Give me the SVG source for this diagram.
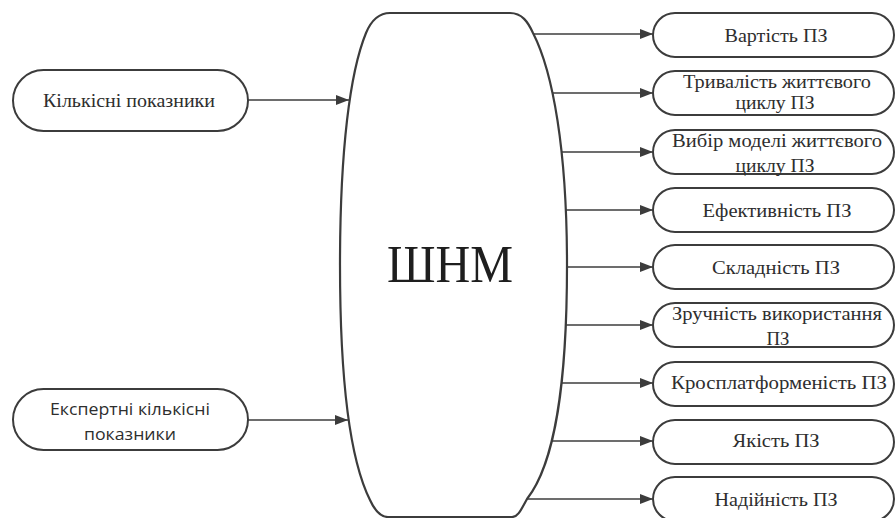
<svg xmlns="http://www.w3.org/2000/svg" width="896" height="518" viewBox="0 0 896 518">
<defs>
<style>
.box{fill:#fff;stroke:#3c3c3c;stroke-width:2}
.core{fill:#fff;stroke:#3c3c3c;stroke-width:2.2}
.conn{stroke:#3c3c3c;stroke-width:1.3;fill:none;marker-end:url(#ah)}
.t{font-family:"Times New Roman","Liberation Serif",serif;font-size:18px;fill:#2e2e2e;text-anchor:middle}
.s{font-family:"Open Sans","Liberation Sans",sans-serif;font-size:17px;fill:#2e2e2e;text-anchor:middle}
.big{font-family:"Times New Roman","Liberation Serif",serif;font-size:53px;fill:#1e1e1e;text-anchor:middle}
</style>
<marker id="ah" markerUnits="userSpaceOnUse" markerWidth="14" markerHeight="10" refX="13" refY="5" orient="auto">
<path d="M0,0 L13,5 L0,10 Z" fill="#3c3c3c"/>
</marker>
</defs>
<rect width="896" height="518" fill="#fff"/>

<g id="connectors">
<line class="conn" x1="248" y1="100" x2="349" y2="100"/>
<line class="conn" x1="248" y1="420" x2="348" y2="420"/>
<line class="conn" x1="520" y1="34" x2="653" y2="34"/>
<line class="conn" x1="520" y1="93" x2="653" y2="93"/>
<line class="conn" x1="520" y1="152" x2="653" y2="152"/>
<line class="conn" x1="520" y1="210" x2="653" y2="210"/>
<line class="conn" x1="520" y1="267" x2="653" y2="267"/>
<line class="conn" x1="520" y1="325" x2="653" y2="325"/>
<line class="conn" x1="520" y1="383" x2="653" y2="383"/>
<line class="conn" x1="520" y1="441" x2="653" y2="441"/>
<line class="conn" x1="515" y1="499" x2="653" y2="499"/>
</g>

<g id="shnm">
<path class="core" d="M390,13 L510,13 C522,13 528,22 533,33 C553,72 567,150 567,265 C567,380 556,462 527,499 C521,510 518,517 512,517 L388,517 C381,517 375,511 370,500 C350,460 340,380 340,265 C340,150 350,72 366,33 C371,21 378,13 390,13 Z"/>
<text class="big" x="450" y="282" textLength="126" lengthAdjust="spacingAndGlyphs">ШНМ</text>
</g>

<g id="in1">
<rect class="box" x="13" y="70" width="235" height="61" rx="30.5"/>
<text class="t" x="129" y="107" textLength="172" lengthAdjust="spacingAndGlyphs">Кількісні показники</text>
</g>
<g id="in2">
<rect class="box" x="13" y="389" width="235" height="61" rx="30.5"/>
<text class="s" x="130" y="415" textLength="160" lengthAdjust="spacingAndGlyphs">Експертні кількісні</text>
<text class="s" x="130" y="440" textLength="92" lengthAdjust="spacingAndGlyphs">показники</text>
</g>

<g id="out1">
<rect class="box" x="653" y="13" width="241" height="44" rx="22"/>
<text class="t" x="776" y="42" textLength="103" lengthAdjust="spacingAndGlyphs">Вартість ПЗ</text>
</g>
<g id="out2">
<rect class="box" x="653" y="71" width="241" height="44" rx="22"/>
<text class="t" x="777" y="88" textLength="188" lengthAdjust="spacingAndGlyphs">Тривалість життєвого</text>
<text class="t" x="775" y="109" textLength="79" lengthAdjust="spacingAndGlyphs">циклу ПЗ</text>
</g>
<g id="out3">
<rect class="box" x="653" y="130" width="241" height="44" rx="22"/>
<text class="t" x="777" y="147" textLength="210" lengthAdjust="spacingAndGlyphs">Вибір моделі життєвого</text>
<text class="t" x="775" y="172" textLength="79" lengthAdjust="spacingAndGlyphs">циклу ПЗ</text>
</g>
<g id="out4">
<rect class="box" x="653" y="188" width="241" height="44" rx="22"/>
<text class="t" x="777" y="217" textLength="149" lengthAdjust="spacingAndGlyphs">Ефективність ПЗ</text>
</g>
<g id="out5">
<rect class="box" x="653" y="245" width="241" height="44" rx="22"/>
<text class="t" x="776" y="274" textLength="128" lengthAdjust="spacingAndGlyphs">Складність ПЗ</text>
</g>
<g id="out6">
<rect class="box" x="653" y="303" width="241" height="44" rx="22"/>
<text class="t" x="777" y="320" textLength="210" lengthAdjust="spacingAndGlyphs">Зручність використання</text>
<text class="t" x="778" y="345" textLength="23" lengthAdjust="spacingAndGlyphs">ПЗ</text>
</g>
<g id="out7">
<rect class="box" x="653" y="362" width="241" height="44" rx="22"/>
<text class="t" x="779" y="389" textLength="216" lengthAdjust="spacingAndGlyphs">Кросплатформеність ПЗ</text>
</g>
<g id="out8">
<rect class="box" x="653" y="420" width="241" height="44" rx="22"/>
<text class="t" x="776" y="447" textLength="87" lengthAdjust="spacingAndGlyphs">Якість ПЗ</text>
</g>
<g id="out9">
<rect class="box" x="653" y="477" width="241" height="44" rx="22"/>
<text class="t" x="776" y="506" textLength="123" lengthAdjust="spacingAndGlyphs">Надійність ПЗ</text>
</g>
</svg>
